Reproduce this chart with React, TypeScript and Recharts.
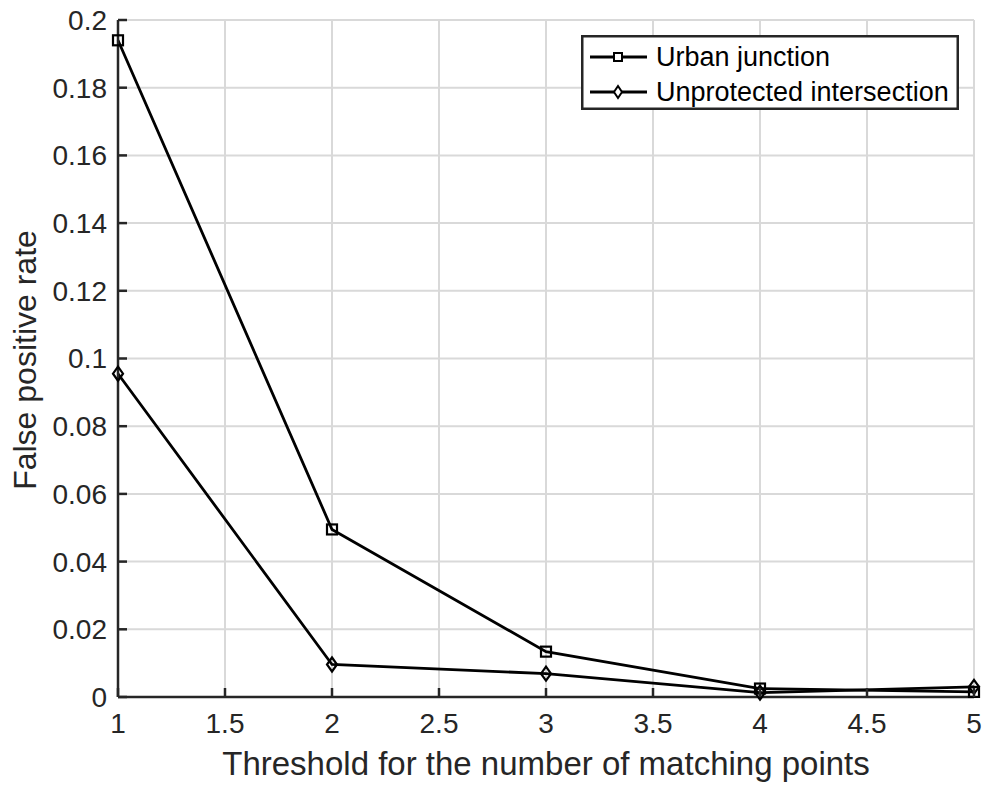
import React from 'react';
import { LineChart, Line, XAxis, YAxis, CartesianGrid, Legend, Label } from 'recharts';

const thresholds = [1, 2, 3, 4, 5];
const urbanJunction = [0.194, 0.0495, 0.0134, 0.0025, 0.0015];
const unprotectedIntersection = [0.0955, 0.0096, 0.0069, 0.0013, 0.003];

const xTicks = [1, 1.5, 2, 2.5, 3, 3.5, 4, 4.5, 5];
const yTicks = [0, 0.02, 0.04, 0.06, 0.08, 0.1, 0.12, 0.14, 0.16, 0.18, 0.2];

const data = thresholds.map((t, i) => ({
  threshold: t,
  urban: urbanJunction[i],
  unprotected: unprotectedIntersection[i],
}));

const FONT = '"Liberation Sans", Arial, Helvetica, sans-serif';
const TEXT = '#262626';
const X_MARGIN = 16;
const Y_MARGIN = 11;
const TICK_LEN = 9;

// MATLAB style: tick marks point into the plot
const XTick = (props: any) => {
  const { x, y, payload } = props;
  const axisY = y - X_MARGIN;
  return (
    <g>
      <line x1={x} x2={x} y1={axisY} y2={axisY - TICK_LEN} stroke={TEXT} strokeWidth={2.5} />
      <text x={x} y={y} dy="0.71em" textAnchor="middle" fontSize={28} fill={TEXT} fontFamily={FONT}>
        {String(payload.value)}
      </text>
    </g>
  );
};

const YTick = (props: any) => {
  const { x, y, payload } = props;
  const axisX = x + Y_MARGIN;
  return (
    <g>
      <line x1={axisX} x2={axisX + TICK_LEN} y1={y} y2={y} stroke={TEXT} strokeWidth={2.5} />
      <text x={x} y={y} dy="0.355em" textAnchor="end" fontSize={28} fill={TEXT} fontFamily={FONT}>
        {String(payload.value)}
      </text>
    </g>
  );
};

const renderSquare = (props: any) => {
  const { cx, cy, index } = props;
  return (
    <rect key={`sq-${index}`} x={cx - 5} y={cy - 5} width={10} height={10} fill="none" stroke="#000" strokeWidth={2.2} />
  );
};

const renderDiamond = (props: any) => {
  const { cx, cy, index } = props;
  return (
    <path
      key={`dm-${index}`}
      d={`M${cx},${cy - 7} L${cx + 5},${cy} L${cx},${cy + 7} L${cx - 5},${cy} Z`}
      fill="none"
      stroke="#000"
      strokeWidth={2.2}
    />
  );
};

function LegendBox() {
  return (
    <svg width={378} height={75} style={{ display: 'block' }}>
      <rect x={1.25} y={1.25} width={375.5} height={72.5} fill="#fff" stroke={TEXT} strokeWidth={2.5} />
      <line x1={9} x2={66} y1={22} y2={22} stroke="#000" strokeWidth={2.8} />
      <rect x={33} y={18} width={8} height={8} fill="#fff" stroke="#000" strokeWidth={2} />
      <text x={75} y={22} dominantBaseline="central" fontSize={27} fill="#000" fontFamily={FONT}>
        Urban junction
      </text>
      <line x1={9} x2={66} y1={57} y2={57} stroke="#000" strokeWidth={2.8} />
      <path d="M37,51 L41,57 L37,63 L33,57 Z" fill="#fff" stroke="#000" strokeWidth={2} />
      <text x={75} y={57} dominantBaseline="central" fontSize={27} fill="#000" fontFamily={FONT}>
        Unprotected intersection
      </text>
    </svg>
  );
}

export default function App() {
  return (
    <div style={{ position: 'fixed', left: 0, top: 0, width: 982, height: 785, background: '#fff' }}>
      <LineChart width={982} height={785} data={data} margin={{ top: 20, right: 8, left: 0, bottom: 0 }}>
        <CartesianGrid stroke="#d9d9d9" strokeWidth={2} />
        <XAxis
          dataKey="threshold"
          type="number"
          domain={[1, 5]}
          ticks={xTicks}
          height={88}
          tickSize={0}
          tickMargin={X_MARGIN}
          axisLine={{ stroke: TEXT, strokeWidth: 2.5 }}
          tickLine={false}
          tick={XTick}
        >
          <Label
            content={() => (
              <text x={546} y={775} textAnchor="middle" fontSize={33} fill={TEXT} fontFamily={FONT}>
                Threshold for the number of matching points
              </text>
            )}
          />
        </XAxis>
        <YAxis
          type="number"
          domain={[0, 0.2]}
          ticks={yTicks}
          width={118}
          tickSize={0}
          tickMargin={Y_MARGIN}
          axisLine={{ stroke: TEXT, strokeWidth: 2.5 }}
          tickLine={false}
          tick={YTick}
        >
          <Label
            content={() => (
              <text
                x={36}
                y={360}
                transform="rotate(-90 36 360)"
                textAnchor="middle"
                fontSize={32}
                fill={TEXT}
                fontFamily={FONT}
              >
                False positive rate
              </text>
            )}
          />
        </YAxis>
        <Legend
          layout="horizontal"
          verticalAlign="middle"
          content={() => <LegendBox />}
          wrapperStyle={{ position: 'absolute', left: 581, top: 35, width: 378, height: 75 }}
        />
        <Line
          type="linear"
          dataKey="urban"
          name="Urban junction"
          stroke="#000"
          strokeWidth={2.8}
          dot={renderSquare}
          activeDot={false}
          isAnimationActive={false}
        />
        <Line
          type="linear"
          dataKey="unprotected"
          name="Unprotected intersection"
          stroke="#000"
          strokeWidth={2.8}
          dot={renderDiamond}
          activeDot={false}
          isAnimationActive={false}
        />
      </LineChart>
    </div>
  );
}
